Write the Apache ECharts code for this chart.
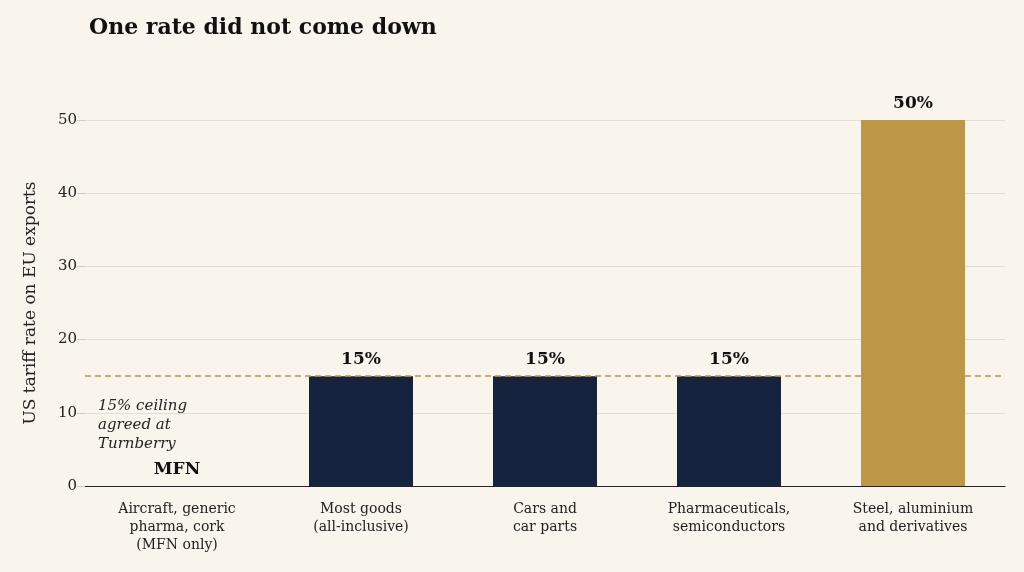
<!DOCTYPE html>
<html><head><meta charset="utf-8">
<script src="https://cdn.jsdelivr.net/npm/echarts@6/dist/echarts.min.js"></script>
<style>html,body{margin:0;background:#faf5ec}#c{width:1024px;height:572px}</style>
</head><body><div id="c"></div>
<script>
var categories = ['Aircraft, generic\npharma, cork\n(MFN only)', 'Most goods\n(all-inclusive)', 'Cars and\ncar parts', 'Pharmaceuticals,\nsemiconductors', 'Steel, aluminium\nand derivatives'];
var rates = [0, 15, 15, 15, 50];
var barLabels = ['MFN', '15%', '15%', '15%', '50%'];
var barColors = ['#16233f', '#16233f', '#16233f', '#16233f', '#bb9746'];
var ceiling = 15;

var font = 'DejaVu Serif';
var chart = echarts.init(document.getElementById('c'));
chart.setOption({
  backgroundColor: '#faf5ec',
  textStyle: { fontFamily: font },
  title: { text: 'One rate did not come down', left: 84, top: 12,
    textStyle: { fontFamily: font, fontSize: 22, fontWeight: 'bold', color: '#111' } },
  grid: { left: 85, right: 19, top: 120, bottom: 86 },
  xAxis: { type: 'category', data: categories,
    axisLine: { lineStyle: { color: '#222', width: 1.2 } }, axisTick: { show: false },
    axisLabel: { color: '#222', fontSize: 14, lineHeight: 18, margin: 14, fontFamily: font } },
  yAxis: { type: 'value', min: 0, max: 50, interval: 10,
    name: 'US tariff rate on EU exports', nameLocation: 'middle', nameGap: 46,
    nameTextStyle: { fontSize: 17, color: '#222', fontFamily: font },
    axisLabel: { color: '#222', fontSize: 15, fontFamily: font },
    axisTick: { show: true, length: 8, lineStyle: { color: '#ccc' } },
    splitLine: { lineStyle: { color: '#e2ded5' } } },
  graphic: [{ type: 'text', left: 98, top: 397,
    style: { text: '15% ceiling\nagreed at\nTurnberry', font: 'italic 15px "DejaVu Serif"', fill: '#222', lineHeight: 19 } }],
  series: [{
    type: 'bar', barWidth: 104,
    data: rates.map(function (v, i) { return { value: v, itemStyle: { color: barColors[i] } }; }),
    label: { show: true, position: 'top', distance: 8, fontSize: 17, fontWeight: 'bold', color: '#111', fontFamily: font,
      formatter: function (p) { return barLabels[p.dataIndex]; } },
    markLine: { symbol: 'none', silent: true, label: { show: false },
      lineStyle: { color: '#b8974a', type: [6, 4], width: 1.5 },
      data: [{ yAxis: ceiling }] }
  }]
});
</script></body></html>
